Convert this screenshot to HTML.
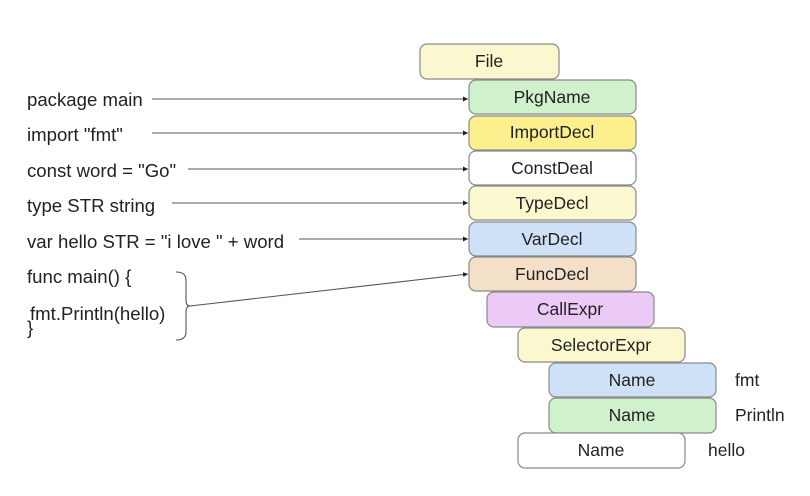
<!DOCTYPE html>
<html><head><meta charset="utf-8"><style>
html,body{margin:0;padding:0;background:#fff;}
svg{display:block;}
text{font-family:"Liberation Sans",sans-serif;fill:#222;}
</style></head><body>
<svg width="810" height="496" viewBox="0 0 810 496" xmlns="http://www.w3.org/2000/svg">
<defs><marker id="a" markerWidth="6" markerHeight="6" refX="5" refY="3" orient="auto" markerUnits="userSpaceOnUse"><path d="M0,0.5 L5,3 L0,5.5z" fill="#222"/></marker></defs>
<g stroke="#8a8a8a" stroke-width="1.2">
<rect x="420" y="44" width="139" height="35" rx="7" fill="#fbf8cf"/>
<rect x="469" y="80" width="167" height="34" rx="7" fill="#cff1cb"/>
<rect x="469" y="116" width="167" height="34" rx="7" fill="#fbef8e"/>
<rect x="469" y="151" width="167" height="34" rx="7" fill="#ffffff"/>
<rect x="469" y="186" width="167" height="34" rx="7" fill="#fbf8cf"/>
<rect x="469" y="222" width="167" height="34" rx="7" fill="#cfe1f6"/>
<rect x="469" y="257" width="167" height="34" rx="7" fill="#f4e0c9"/>
<rect x="487" y="292" width="167" height="35" rx="7" fill="#ebcaf5"/>
<rect x="518" y="328" width="167" height="34" rx="7" fill="#fbf8cf"/>
<rect x="549" y="363" width="167" height="34" rx="7" fill="#cfe1f6"/>
<rect x="549" y="398" width="167" height="35" rx="7" fill="#cff1cb"/>
<rect x="518" y="433" width="167" height="35" rx="7" fill="#ffffff"/>
</g>
<g font-size="17.5" text-anchor="middle">
<text x="489" y="67">File</text>
<text x="552" y="103">PkgName</text>
<text x="552" y="138">ImportDecl</text>
<text x="552" y="174">ConstDeal</text>
<text x="552" y="209">TypeDecl</text>
<text x="552" y="245">VarDecl</text>
<text x="552" y="280">FuncDecl</text>
<text x="570" y="315">CallExpr</text>
<text x="601" y="351">SelectorExpr</text>
<text x="632" y="386">Name</text>
<text x="632" y="421">Name</text>
<text x="601" y="456">Name</text>
</g>
<g font-size="17.5">
<text x="735" y="386">fmt</text>
<text x="735" y="421">Println</text>
<text x="708" y="456">hello</text>
</g>
<g font-size="18.6">
<text x="27" y="106">package main</text>
<text x="27" y="141">import "fmt"</text>
<text x="27" y="177">const word = "Go"</text>
<text x="27" y="212">type STR string</text>
<text x="27" y="248">var hello STR = "i love " + word</text>
<text x="27" y="283">func main() {</text>
<text x="30" y="320">fmt.Println(hello)</text>
<text x="27" y="334">}</text>
</g>
<g stroke="#555" stroke-width="1.1" fill="none">
<line x1="152" y1="99" x2="468" y2="99" marker-end="url(#a)"/>
<line x1="152" y1="133" x2="468" y2="133" marker-end="url(#a)"/>
<line x1="188" y1="169" x2="468" y2="169" marker-end="url(#a)"/>
<line x1="172" y1="203" x2="468" y2="203" marker-end="url(#a)"/>
<line x1="299" y1="239" x2="468" y2="239" marker-end="url(#a)"/>
<line x1="190" y1="306" x2="468" y2="274" marker-end="url(#a)"/>
<path d="M176,272 Q186,272 186,280 L186,300 Q186,306 190,306 Q186,306 186,312 L186,332 Q186,340 176,340"/>
</g>
</svg>
</body></html>
